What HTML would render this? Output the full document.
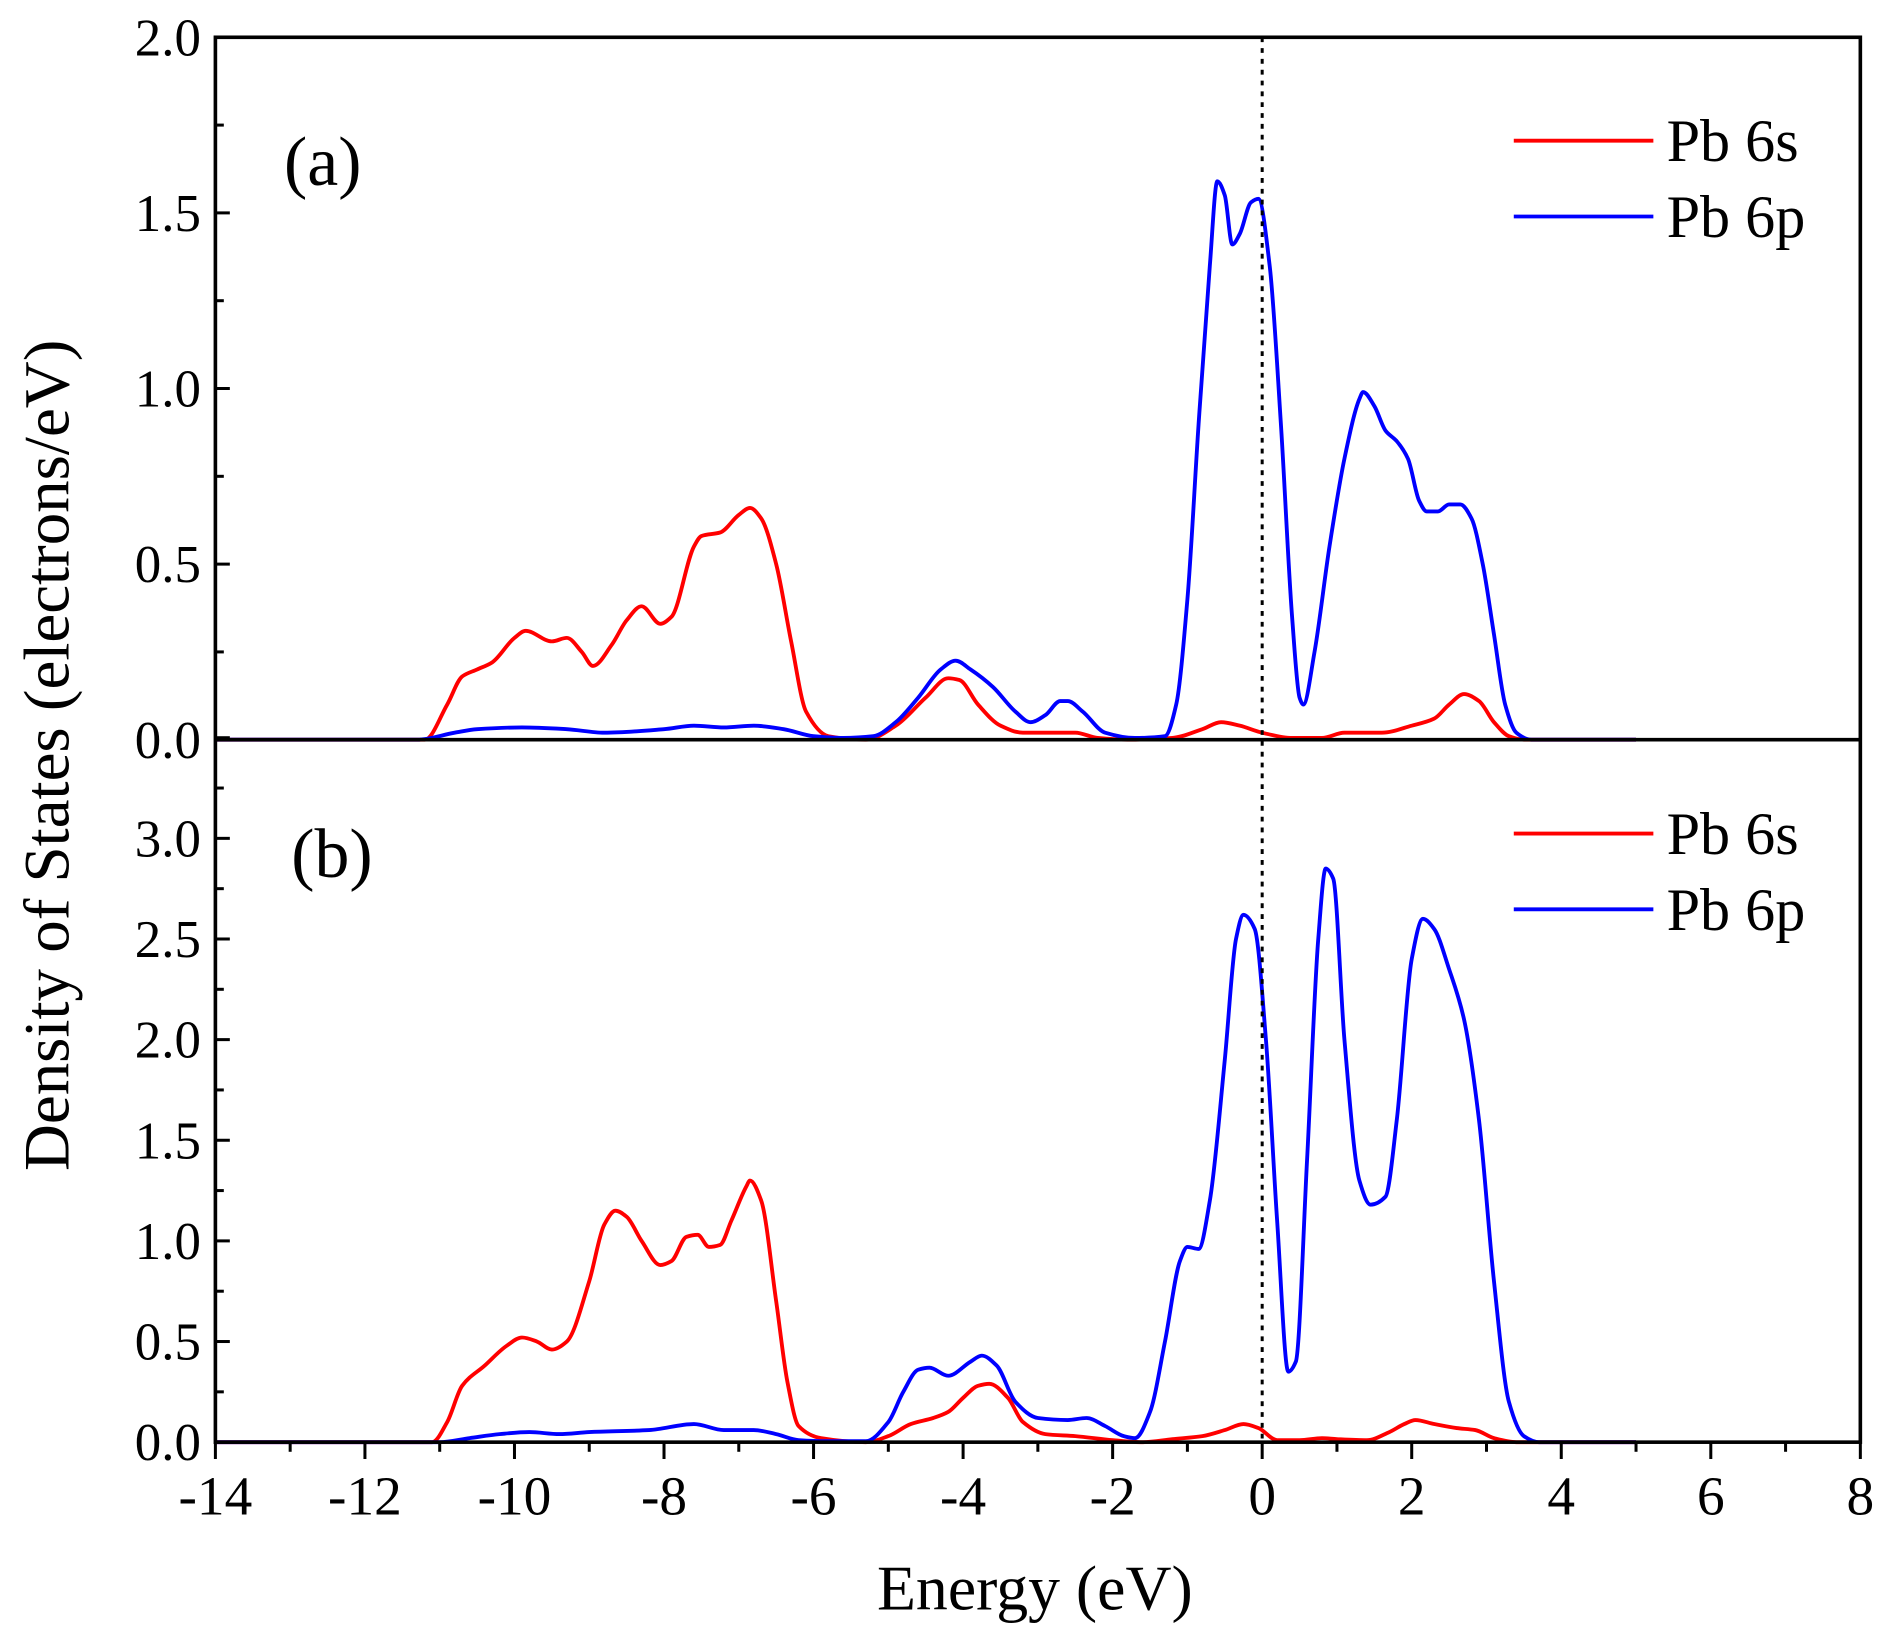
<!DOCTYPE html>
<html><head><meta charset="utf-8"><style>html,body{margin:0;padding:0;background:#fff}svg{display:block}text{font-family:"Liberation Serif",serif;fill:#000}</style></head>
<body>
<svg id="chart" width="1882" height="1631" viewBox="0 0 1564 1356" preserveAspectRatio="none" xmlns="http://www.w3.org/2000/svg">
<g id="g"></g>
</svg>
<script>
const xTicks=[-14,-12,-10,-8,-6,-4,-2,0,2,4,6,8];
const aTicks=["0.0","0.5","1.0","1.5","2.0"];
const bTicks=["0.0","0.5","1.0","1.5","2.0","2.5","3.0"];
const aSx=[-14,-11.2,-10.9,-10.7,-10.5,-10.3,-10.0,-9.85,-9.5,-9.3,-9.1,-8.95,-8.7,-8.5,-8.3,-8.05,-7.9,-7.6,-7.5,-7.25,-7.0,-6.85,-6.7,-6.5,-6.3,-6.1,-5.8,-5.3,-4.9,-4.5,-4.2,-4.05,-3.8,-3.5,-3.2,-2.8,-2.5,-2.2,-1.8,-1.2,-0.8,-0.55,-0.3,0,0.4,0.8,1.1,1.6,2.0,2.3,2.5,2.7,2.9,3.1,3.3,3.5,5];
const aSy=[0,0,0.1,0.18,0.2,0.22,0.29,0.31,0.28,0.29,0.25,0.21,0.27,0.34,0.38,0.33,0.35,0.55,0.58,0.59,0.64,0.66,0.63,0.5,0.28,0.08,0.01,0,0.04,0.12,0.175,0.17,0.1,0.04,0.02,0.02,0.02,0.005,0,0.005,0.03,0.05,0.04,0.02,0.005,0.005,0.02,0.02,0.04,0.06,0.1,0.13,0.11,0.05,0.01,0,0];
const aPx=[-14,-11.3,-10.8,-10.5,-9.9,-9.3,-8.8,-8.0,-7.6,-7.2,-6.8,-6.4,-6.0,-5.6,-5.2,-4.9,-4.6,-4.3,-4.1,-3.9,-3.6,-3.3,-3.1,-2.9,-2.7,-2.6,-2.4,-2.1,-1.7,-1.3,-1.15,-1.0,-0.85,-0.7,-0.6,-0.5,-0.4,-0.3,-0.15,-0.05,0.1,0.25,0.4,0.5,0.55,0.7,0.9,1.1,1.3,1.35,1.5,1.65,1.8,1.95,2.1,2.2,2.35,2.5,2.65,2.8,2.95,3.1,3.25,3.4,3.6,5];
const aPy=[0,0,0.02,0.03,0.035,0.03,0.02,0.03,0.04,0.035,0.04,0.03,0.01,0.005,0.01,0.05,0.12,0.2,0.225,0.2,0.15,0.08,0.05,0.07,0.11,0.11,0.08,0.02,0.005,0.01,0.1,0.4,0.9,1.35,1.59,1.55,1.41,1.44,1.53,1.54,1.35,0.9,0.35,0.12,0.1,0.25,0.55,0.8,0.97,0.99,0.95,0.88,0.85,0.8,0.68,0.65,0.65,0.67,0.67,0.63,0.5,0.3,0.1,0.02,0,0];
const bSx=[-14,-11.1,-10.9,-10.7,-10.4,-10.1,-9.9,-9.7,-9.5,-9.3,-9.0,-8.8,-8.65,-8.5,-8.3,-8.05,-7.9,-7.7,-7.55,-7.4,-7.25,-7.1,-6.9,-6.85,-6.7,-6.5,-6.35,-6.2,-5.9,-5.3,-5.0,-4.7,-4.4,-4.2,-4.0,-3.8,-3.65,-3.4,-3.2,-2.9,-2.5,-2.0,-1.6,-1.2,-0.8,-0.5,-0.25,-0.05,0.2,0.5,0.8,1.0,1.4,1.7,1.9,2.05,2.3,2.6,2.85,3.1,3.4,5];
const bSy=[0,0,0.1,0.28,0.38,0.48,0.52,0.5,0.46,0.5,0.8,1.08,1.15,1.12,1.0,0.88,0.9,1.02,1.03,0.97,0.98,1.1,1.27,1.3,1.2,0.7,0.3,0.08,0.02,0,0.03,0.09,0.12,0.15,0.22,0.28,0.29,0.22,0.1,0.04,0.03,0.01,0,0.015,0.03,0.06,0.09,0.07,0.01,0.01,0.02,0.015,0.01,0.05,0.09,0.11,0.09,0.07,0.06,0.02,0,0];
const bPx=[-14,-11,-10.6,-10.2,-9.8,-9.4,-9.0,-8.2,-7.6,-7.2,-6.8,-6.5,-6.2,-5.8,-5.3,-5.0,-4.8,-4.6,-4.45,-4.2,-3.9,-3.75,-3.55,-3.3,-3.0,-2.6,-2.35,-2.1,-1.85,-1.7,-1.5,-1.3,-1.1,-1.0,-0.85,-0.7,-0.5,-0.35,-0.25,-0.1,0.05,0.2,0.35,0.45,0.6,0.75,0.85,0.95,1.1,1.3,1.45,1.65,1.8,2.0,2.15,2.3,2.5,2.7,2.9,3.1,3.3,3.5,3.7,5];
const bPy=[0,0,0.02,0.04,0.05,0.04,0.05,0.06,0.09,0.06,0.06,0.04,0.01,0.005,0.005,0.1,0.25,0.36,0.37,0.33,0.4,0.43,0.38,0.2,0.12,0.11,0.12,0.08,0.03,0.02,0.15,0.5,0.9,0.97,0.96,1.2,1.9,2.5,2.62,2.55,2.0,1.1,0.35,0.4,1.4,2.5,2.85,2.8,2.0,1.3,1.18,1.22,1.6,2.4,2.6,2.55,2.35,2.1,1.6,0.8,0.2,0.03,0,0];

const NS="http://www.w3.org/2000/svg", g=document.getElementById('g');
const L=179,R=1546,T=31,M=615,B=1199;
const X=v=>L+(v+14)*(R-L)/22;
const YA=v=>M-v*(M-T)/2;
const YB=v=>B-v*(B-697)/3;
function el(tag,attrs,txt){const e=document.createElementNS(NS,tag);for(const k in attrs)e.setAttribute(k,attrs[k]);if(txt!=null)e.textContent=txt;g.appendChild(e);return e;}
// monotone cubic (Fritsch-Carlson) to avoid overshoot
function path(xs,ys,Y){const px=xs.map(X),py=ys.map(Y),n=px.length;
 const d=[],m=new Array(n);
 for(let i=0;i<n-1;i++)d.push((py[i+1]-py[i])/(px[i+1]-px[i]));
 m[0]=d[0];m[n-1]=d[n-2];
 for(let i=1;i<n-1;i++){if(d[i-1]*d[i]<=0)m[i]=0;else{const w1=2*(px[i+1]-px[i])+(px[i]-px[i-1]),w2=(px[i+1]-px[i])+2*(px[i]-px[i-1]);m[i]=(w1+w2)/(w1/d[i-1]+w2/d[i]);}}
 let s=`M${px[0]},${py[0]}`;
 for(let i=0;i<n-1;i++){const h=(px[i+1]-px[i])/3;s+=`C${px[i]+h},${py[i]+m[i]*h} ${px[i+1]-h},${py[i+1]-m[i+1]*h} ${px[i+1]},${py[i+1]}`;}
 return s;}
let e;
e=el('path',{d:path(aSx,aSy,YA),fill:'none',stroke:'#f00','stroke-width':3.2,'stroke-linejoin':'round'});

e=el('path',{d:path(aPx,aPy,YA),fill:'none',stroke:'#00f','stroke-width':3.2,'stroke-linejoin':'round'});

e=el('path',{d:path(bSx,bSy,YB),fill:'none',stroke:'#f00','stroke-width':3.2,'stroke-linejoin':'round'});

e=el('path',{d:path(bPx,bPy,YB),fill:'none',stroke:'#00f','stroke-width':3.2,'stroke-linejoin':'round'});

e=el('line',{x1:X(0),x2:X(0),y1:T,y2:B,stroke:'#000','stroke-width':2.5,'stroke-dasharray':'4,5'});

e=el('rect',{x:L,y:T,width:R-L,height:B-T,fill:'none',stroke:'#000','stroke-width':3});

e=el('line',{x1:L,x2:R,y1:M,y2:M,stroke:'#000','stroke-width':3});

for(let v=-14;v<=8;v++){const maj=v%2===0;el('line',{x1:X(v),x2:X(v),y1:B,y2:B+(maj?14:8),stroke:'#000','stroke-width':2.5});}
xTicks.forEach(v=>{e=el('text',{x:X(v),y:B+60,'font-size':46,'text-anchor':'middle'},String(v));
});
aTicks.forEach(s=>{const v=parseFloat(s);el('line',{x1:L,x2:L+12,y1:YA(v),y2:YA(v),stroke:'#000','stroke-width':2.5});
if(v<2)el('line',{x1:L,x2:L+7,y1:YA(v+0.25),y2:YA(v+0.25),stroke:'#000','stroke-width':2.5});
e=el('text',{x:L-12,y:YA(v)+15,'font-size':44,'text-anchor':'end'},s);
});
bTicks.forEach(s=>{const v=parseFloat(s);el('line',{x1:L,x2:L+12,y1:YB(v),y2:YB(v),stroke:'#000','stroke-width':2.5});
el('line',{x1:L,x2:L+7,y1:YB(v+0.25),y2:YB(v+0.25),stroke:'#000','stroke-width':2.5});
e=el('text',{x:L-12,y:YB(v)+15,'font-size':44,'text-anchor':'end'},s);
});
el('line',{x1:L,x2:L+12,y1:YB(3.5),y2:YB(3.5),stroke:'#000','stroke-width':2.5});
e=el('text',{x:860,y:1338,'font-size':53,'text-anchor':'middle'},'Energy (eV)');

e=el('text',{x:0,y:0,'font-size':54,'text-anchor':'middle',transform:'translate(57,628) rotate(-90)'},'Density of States (electrons/eV)');

e=el('text',{x:236,y:154,'font-size':58},'(a)');

e=el('text',{x:242,y:729,'font-size':58},'(b)');

[[117,180],[693,756]].forEach(ys=>{
[['Pb 6s','#f00'],['Pb 6p','#00f']].forEach(([t,c],i)=>{
e=el('line',{x1:1258,x2:1374,y1:ys[i],y2:ys[i],stroke:c,'stroke-width':3.2});

e=el('text',{x:1385,y:ys[i]+17,'font-size':50},t);
});});
</script>
</body></html>
